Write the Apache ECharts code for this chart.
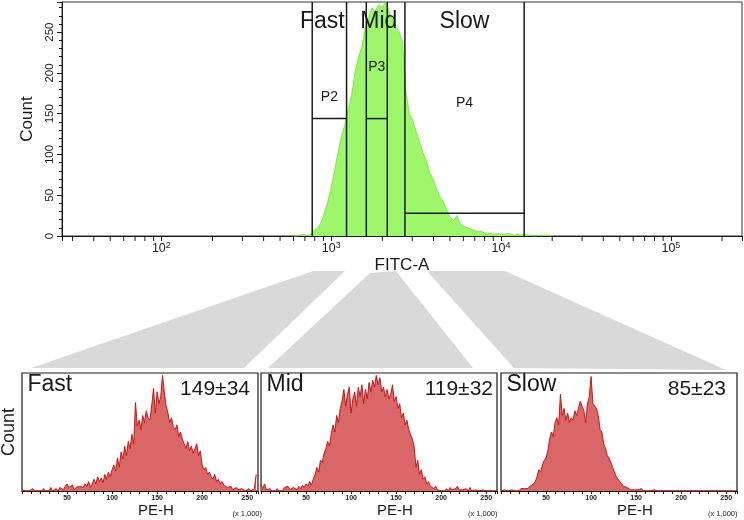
<!DOCTYPE html>
<html><head><meta charset="utf-8">
<script src="https://cdn.jsdelivr.net/npm/echarts@6/dist/echarts.min.js"></script>
<style>html,body{margin:0;padding:0;background:#fff}#c{width:744px;height:520px}</style>
</head><body><div id="c"></div>
<script>
// ---------- DATA ----------
// Top histogram: FITC-A intensity bin centres and counts
const fitcBins = [603,631,661,692,724,759,794,832,871,912,
  955,1000,1047,1096,1148,1202,1259,1318,1380,1445,
  1514,1585,1660,1738,1820,1905,1995,2089,2188,2291,
  2399,2512,2630,2754,2884,3020,3162,3311,3467,3631,
  3802,3981,4169,4365,4571,4786,5012,5248,5495,5754,
  6026,6310,6607,6918,7244,7586,7943,8318,8710,9120,
  9550,10000,10471,10965,11482,12023,12589,13183,13804,14454,
  15136,15849,16596,17378,18197,19055,19953];
const fitcCounts = [0,0,1,2,0,2,7,10,16,28,
  42,60,80,102,122,136,155,172,200,218,
  232,254,268,280,276,284,280,287,276,266,
  257,250,238,176,150,142,128,116,102,92,
  78,70,58,48,42,32,23,19,25,15,
  12,10,9,7,5,6,4,3,3,2,
  3,2,2,3,2,1,2,1,2,1,
  1,0,1,0,1,1,0];
const fitcMinorTicks = [30,40,50,60,70,80,90,200,300,400,500,600,700,800,900,
  2000,3000,4000,5000,6000,7000,8000,9000,20000,30000,40000,50000,60000,70000,80000,90000,200000];

// Gates
const gateNames = ['P2','P3','P4'];
const gateGroups = ['Fast','Mid','Slow'];
const gateLow = [773,1609,2716];
const gateHigh = [1231,2138,13680];
const gateLevel = [144,144,28];

// Bottom histograms: PE-H (x 1,000) bin centres and relative counts
const peBins = [0,2,4,6,8,10,12,14,16,18,20,22,24,26,28,30,32,34,36,38,40,
  42,44,46,48,50,52,54,56,58,60,62,64,66,68,70,72,74,76,78,80,
  82,84,86,88,90,92,94,96,98,100,102,104,106,108,110,112,114,116,118,120,
  122,124,126,128,130,132,134,136,138,140,142,144,146,148,150,152,154,156,158,160,
  162,164,166,168,170,172,174,176,178,180,182,184,186,188,190,192,194,196,198,200,
  202,204,206,208,210,212,214,216,218,220,222,224,226,228,230,232,234,236,238,240,
  242,244,246,248,250,252,254,256,258,260];
const fastCounts = [1,2,0,1,0,0,2,0,1,0,0,
  0,2,0,1,0,3,0,1,2,0,
  3,2,1,4,6,3,2,5,1,3,
  2,4,5,3,6,4,8,3,6,10,
  6,12,8,11,7,14,10,16,12,18,
  22,17,28,20,33,27,38,30,42,36,
  48,40,75,55,60,52,64,58,68,62,
  60,72,87,66,84,74,80,98,84,72,
  66,58,62,54,52,56,46,50,44,40,
  36,42,34,38,32,36,40,30,34,22,
  18,20,14,16,12,10,14,8,10,6,
  8,5,4,3,2,4,1,2,3,1,
  0,2,1,0,1,2,0,1,2,14];
const midCounts = [5,2,6,1,0,2,0,1,0,2,0,
  1,0,3,2,4,1,0,3,2,1,
  4,2,5,3,6,4,8,5,10,14,
  20,16,26,24,32,36,42,38,48,56,
  50,64,58,70,76,86,72,82,88,66,
  78,84,72,88,80,90,74,86,78,92,
  84,94,88,98,90,96,84,88,80,86,
  78,82,90,76,80,70,74,62,66,56,
  60,52,48,44,38,20,26,14,18,10,
  12,6,8,4,3,2,4,1,2,0,
  1,0,2,0,3,1,0,2,4,1,
  0,1,0,2,0,3,0,0,1,0,
  0,0,1,0,0,0,0,0,0,0];
const slowCounts = [0,0,1,0,0,0,1,0,0,1,0,
  2,1,2,3,2,4,3,6,8,12,
  18,16,22,26,28,34,44,50,46,58,
  62,56,82,64,70,60,66,58,62,60,
  68,64,70,76,72,68,58,74,80,97,
  74,72,70,64,52,50,40,36,30,28,
  24,20,16,12,10,8,6,4,3,3,
  2,1,2,1,0,1,1,2,0,1,
  0,1,0,0,1,0,0,1,0,0,
  0,0,0,0,0,0,0,0,0,0,
  0,0,0,0,0,0,0,0,0,0,
  0,0,0,0,0,0,0,0,0,0,
  0,0,0,0,0,0,0,0,0,0];
const panelNames = ['Fast','Mid','Slow'];
const panelStats = ['149\u00B134','119\u00B132','85\u00B123'];
const panelCounts = [fastCounts, midCounts, slowCounts];

// ---------- LAYOUT / STYLE ----------
const FONT = 'Liberation Sans, Arial, Helvetica, sans-serif';
const INK = '#1a1a1a';
const Y_MAX = 287;
const PE_MAX = 262;
const panelLeft = [22, 261, 501];
const gateLabelY = {P2: 170, P3: 207, P4: 163};
const groupLabelDx = {Fast: -7, Mid: 2, Slow: 0};

const chart = echarts.init(document.getElementById('c'), null, {renderer: 'canvas', width: 744, height: 520});

const supFmt = v => {
  const e = Math.log10(v);
  if (Math.abs(e - Math.round(e)) > 1e-6) return '';
  return '{b|10}{s|' + Math.round(e) + '}';
};

const grids = [{left: 62, top: 2, width: 680, height: 234, show: true, borderColor: '#333', borderWidth: 1,
  containLabel: false, outerBoundsMode: 'none'}];
const xAxes = [{
  type: 'log', logBase: 10, gridIndex: 0, min: 26, max: 262144,
  axisLine: {show: true, lineStyle: {color: INK, width: 1}},
  axisTick: {show: true, inside: false, length: 5, lineStyle: {color: INK}},
  splitLine: {show: false}, minorTick: {show: false},
  axisLabel: {formatter: supFmt, margin: 5, color: INK,
    rich: {b: {fontSize: 12.5, color: INK, fontFamily: FONT}, s: {fontSize: 9, color: INK, fontFamily: FONT, padding: [0, 0, 7, 0]}}},
  name: 'FITC-A', nameLocation: 'middle', nameGap: 11,
  nameTextStyle: {fontSize: 17, color: INK, fontFamily: FONT, verticalAlign: 'top'}
}];
const yAxes = [{
  type: 'value', gridIndex: 0, min: 0, max: Y_MAX, interval: 50,
  axisLine: {show: true, lineStyle: {color: INK, width: 1}},
  axisTick: {show: true, length: 5, lineStyle: {color: INK}},
  minorTick: {show: true, splitNumber: 5, length: 3, lineStyle: {color: INK}},
  splitLine: {show: false},
  axisLabel: {rotate: 90, fontSize: 11.5, color: INK, margin: 6, fontFamily: FONT,
    formatter: v => (v % 50 === 0 ? String(v) : '')},
  name: 'Count', nameLocation: 'middle', nameGap: 24, nameRotate: 90,
  nameTextStyle: {fontSize: 17, color: INK, fontFamily: FONT}
}];

const series = [
  {
    type: 'line', xAxisIndex: 0, yAxisIndex: 0, symbol: 'none', z: 2,
    data: fitcBins.map((b, i) => [b, fitcCounts[i]]),
    lineStyle: {color: '#7fe646', width: 1},
    areaStyle: {color: '#9ef76a', opacity: 1},
    silent: true
  },
  {
    type: 'custom', xAxisIndex: 0, yAxisIndex: 0, z: 5, clip: false, silent: true,
    data: gateNames.map((n, i) => [gateLow[i], gateHigh[i], gateLevel[i], i]),
    renderItem: (params, api) => {
      const lo = api.value(0), hi = api.value(1), lv = api.value(2), i = api.value(3);
      const b0 = api.coord([lo, 0]), b1 = api.coord([hi, 0]);
      const t0 = api.coord([lo, Y_MAX]), t1 = api.coord([hi, Y_MAX]);
      const h0 = api.coord([lo, lv]), h1 = api.coord([hi, lv]);
      const st = {stroke: INK, lineWidth: 1.5};
      const cx = (b0[0] + b1[0]) / 2;
      const ly = api.coord([lo, gateLabelY[gateNames[i]]])[1];
      return {type: 'group', children: [
        {type: 'line', shape: {x1: b0[0], y1: b0[1], x2: t0[0], y2: t0[1]}, style: st},
        {type: 'line', shape: {x1: b1[0], y1: b1[1], x2: t1[0], y2: t1[1]}, style: st},
        {type: 'line', shape: {x1: h0[0], y1: h0[1], x2: h1[0], y2: h1[1]}, style: st},
        {type: 'text', x: cx, y: ly, style: {text: gateNames[i], fontSize: 14, fontFamily: FONT, fill: INK, align: 'center', verticalAlign: 'middle'}},
        {type: 'text', x: cx + groupLabelDx[gateGroups[i]], y: t0[1] + 20, style: {text: gateGroups[i], fontSize: 23, fontFamily: FONT, fill: INK, align: 'center', verticalAlign: 'middle'}}
      ]};
    }
  },
  {
    type: 'custom', xAxisIndex: 0, yAxisIndex: 0, z: 5, clip: false, silent: true,
    data: fitcMinorTicks.map(v => [v, 0]),
    renderItem: (params, api) => {
      const c = api.coord([api.value(0), 0]);
      return {type: 'line', shape: {x1: c[0], y1: c[1], x2: c[0], y2: c[1] + 5}, style: {stroke: INK, lineWidth: 1}};
    }
  }
];

const graphics = [
  {type: 'polygon', shape: {points: [[313, 271], [345, 271], [244, 368], [31, 368]]}, style: {fill: '#d9d9d9'}, z: -1, silent: true},
  {type: 'polygon', shape: {points: [[370, 273], [396, 271], [473, 368], [268, 368]]}, style: {fill: '#d9d9d9'}, z: -1, silent: true},
  {type: 'polygon', shape: {points: [[427, 271], [505, 271], [726, 370], [514, 368]]}, style: {fill: '#d9d9d9'}, z: -1, silent: true}
];
const statRight = [250, 493, 726];
const unitRight = [262, 497.5, 737.5];

for (let i = 0; i < 3; i++) {
  const g = i + 1;
  grids.push({left: panelLeft[i], top: 373, width: 236, height: 118, show: true, borderColor: INK, borderWidth: 1.2,
    containLabel: false, outerBoundsMode: 'none'});
  xAxes.push({
    type: 'value', gridIndex: g, min: 0, max: PE_MAX, interval: 10,
    axisLine: {show: true, lineStyle: {color: INK, width: 1.2}},
    axisTick: {show: true, length: 3, lineStyle: {color: INK}},
    splitLine: {show: false},
    axisLabel: {fontSize: 7, fontWeight: 'bold', color: INK, margin: 4, fontFamily: FONT,
      formatter: v => (v > 0 && v % 50 === 0 ? String(v) : '')},
    name: 'PE-H', nameLocation: 'middle', nameGap: 8,
    nameTextStyle: {fontSize: 15, color: INK, fontFamily: FONT, padding: [0, 0, 0, 32], verticalAlign: 'top'}
  });
  yAxes.push({
    type: 'value', gridIndex: g, min: 0, max: 100,
    axisLine: {show: false}, axisTick: {show: false}, axisLabel: {show: false}, splitLine: {show: false},
    name: i === 0 ? 'Count' : '', nameLocation: 'middle', nameGap: 4, nameRotate: 90,
    nameTextStyle: {fontSize: 18, color: INK, fontFamily: FONT}
  });
  series.push({
    type: 'line', xAxisIndex: g, yAxisIndex: g, symbol: 'none', silent: true,
    data: peBins.map((b, k) => [b, panelCounts[i][k]]),
    lineStyle: {color: '#c81414', width: 1},
    areaStyle: {color: '#d96767', opacity: 1}
  });
  graphics.push({type: 'text', x: panelLeft[i] + 5.5, y: 385, z: 10, silent: true,
    style: {text: panelNames[i], fontSize: 23, fontFamily: FONT, fill: INK, align: 'left', verticalAlign: 'middle'}});
  graphics.push({type: 'text', x: statRight[i], y: 389, z: 10, silent: true,
    style: {text: panelStats[i], fontSize: 21, fontFamily: FONT, fill: INK, align: 'right', verticalAlign: 'middle'}});
  graphics.push({type: 'text', x: unitRight[i], y: 514, z: 10, silent: true,
    style: {text: '(x 1,000)', fontSize: 7.5, fontFamily: FONT, fill: INK, align: 'right', verticalAlign: 'middle'}});
}

chart.setOption({
  animation: false,
  backgroundColor: '#fff',
  textStyle: {fontFamily: FONT},
  grid: grids,
  xAxis: xAxes,
  yAxis: yAxes,
  series: series,
  graphic: {elements: graphics}
});
</script>
</body></html>
